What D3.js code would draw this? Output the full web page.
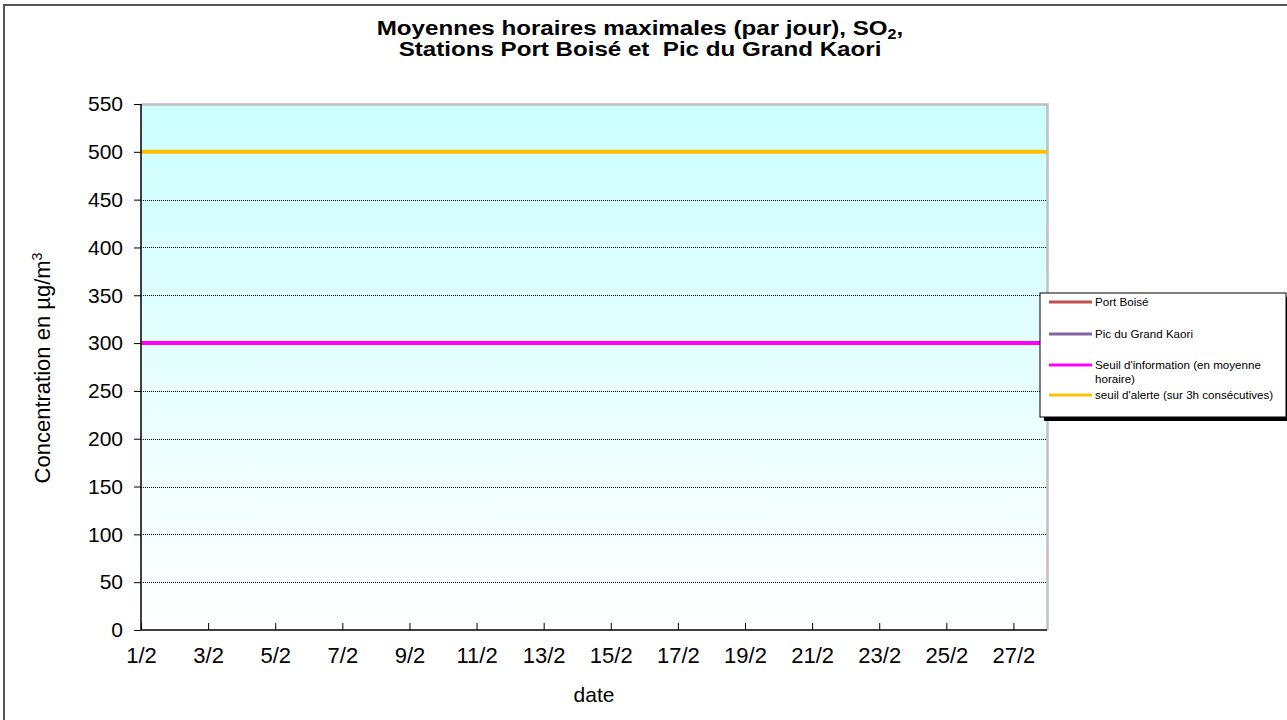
<!DOCTYPE html>
<html><head><meta charset="utf-8">
<script src="https://cdn.jsdelivr.net/npm/d3@7"></script>
<style>body{margin:0;background:#fff}svg{display:block}text{font-family:"Liberation Sans",Arial,sans-serif}</style>
</head><body>
<svg id="c" width="1287" height="720"></svg>
<script>
const dates = ["1/2","2/2","3/2","4/2","5/2","6/2","7/2","8/2","9/2","10/2","11/2","12/2","13/2","14/2","15/2","16/2","17/2","18/2","19/2","20/2","21/2","22/2","23/2","24/2","25/2","26/2","27/2","28/2"];
const portBoise = [null,null,null,null,null,null,null,null,null,null,null,null,null,null,null,null,null,null,null,null,null,null,null,null,null,null,null,null];
const picGrandKaori = [null,null,null,null,null,null,null,null,null,null,null,null,null,null,null,null,null,null,null,null,null,null,null,null,null,null,null,null];
const seuilInformation = [300,300,300,300,300,300,300,300,300,300,300,300,300,300,300,300,300,300,300,300,300,300,300,300,300,300,300,300];
const seuilAlerte = [500,500,500,500,500,500,500,500,500,500,500,500,500,500,500,500,500,500,500,500,500,500,500,500,500,500,500,500];
const yTicks = [0,50,100,150,200,250,300,350,400,450,500,550];
const xTickLabels = ["1/2","3/2","5/2","7/2","9/2","11/2","13/2","15/2","17/2","19/2","21/2","23/2","25/2","27/2"];

const series = [
  {name:"Port Boisé", values:portBoise, color:"#C0504D", lines:["Port Boisé"]},
  {name:"Pic du Grand Kaori", values:picGrandKaori, color:"#8064A2", lines:["Pic du Grand Kaori"]},
  {name:"Seuil d'information (en moyenne horaire)", values:seuilInformation, color:"#FF00FF", lines:["Seuil d'information (en moyenne","horaire)"]},
  {name:"seuil d'alerte (sur 3h consécutives)", values:seuilAlerte, color:"#FFC000", lines:["seuil d'alerte (sur 3h consécutives)"]}
];

const svg = d3.select("#c");
const L=141, R=1047, T=104, B=630;
const x = d3.scalePoint().domain(dates).range([L,R]);
const y = d3.scaleLinear().domain([0,550]).range([B,T]);

// outer border
svg.append("rect").attr("x",4).attr("y",5).attr("width",1290).attr("height",720).attr("fill","none").attr("stroke","#555").attr("stroke-width",2);

// gradient
const defs = svg.append("defs");
const g = defs.append("linearGradient").attr("id","bg").attr("x1",0).attr("y1",0).attr("x2",0).attr("y2",1);
g.append("stop").attr("offset","0%").attr("stop-color","#CCFFFF");
g.append("stop").attr("offset","100%").attr("stop-color","#FFFFFF");
svg.append("rect").attr("x",L).attr("y",T).attr("width",R-L).attr("height",B-T).attr("fill","url(#bg)");

// gridlines
svg.append("g").selectAll("line").data(yTicks.filter(v=>v>0&&v<550)).join("line")
  .attr("x1",L).attr("x2",R).attr("y1",d=>Math.round(y(d))+0.5).attr("y2",d=>Math.round(y(d))+0.5)
  .attr("stroke","#000").attr("stroke-width",1).attr("stroke-dasharray","1,1");

// plot border (top & right)
svg.append("path").attr("d",`M${L},${T+0.5}H${R+0.5}V${B}`).attr("fill","none").attr("stroke","#C0C0C0").attr("stroke-width",2.5);

// series lines
const line = d3.line().defined(d=>d.v!=null).x(d=>x(d.k)).y(d=>y(d.v));
series.forEach(s=>{
  const pts = dates.map((k,i)=>({k, v:s.values[i]}));
  svg.append("path").datum(pts).attr("d",line).attr("fill","none").attr("stroke",s.color).attr("stroke-width",4);
});

// y axis
const ya = svg.append("g").attr("transform",`translate(${L},0)`)
  .call(d3.axisLeft(y).tickValues(yTicks).tickSize(7).tickPadding(11).tickFormat(d3.format("d")));
ya.select(".domain").attr("stroke","#000").attr("stroke-width",1.5).attr("d",`M0,${T}V${B}`);
ya.selectAll(".tick line").attr("stroke","#000");
ya.selectAll("text").attr("font-size",21).attr("fill","#000").attr("font-family","Liberation Sans, Arial, sans-serif");

// x axis
const xa = svg.append("g").attr("transform",`translate(0,${B})`)
  .call(d3.axisBottom(x).tickValues(xTickLabels).tickSize(-7).tickPadding(17));
xa.select(".domain").attr("stroke","#000").attr("stroke-width",1.5).attr("d",`M${L},0H${R}`);
xa.selectAll(".tick line").attr("stroke","#000");
xa.selectAll("text").attr("font-size",22).attr("fill","#000").attr("font-family","Liberation Sans, Arial, sans-serif");

// titles (slightly wide lettering, as in the reference)
const tg = svg.append("g").attr("transform","translate(640,0) scale(1.15,1)");
const title = tg.append("text").attr("text-anchor","middle").attr("font-weight","bold").attr("font-size",21).style("white-space","pre");
const t1 = title.append("tspan").attr("x",0).attr("y",35);
t1.append("tspan").text("Moyennes horaires maximales (par jour), SO");
t1.append("tspan").attr("font-size",14).attr("dy",4).text("2");
t1.append("tspan").attr("dy",-4).text(",");
title.append("tspan").attr("x",0).attr("y",56).text("Stations Port Boisé et  Pic du Grand Kaori");

svg.append("text").attr("x",594).attr("y",702).attr("text-anchor","middle").attr("font-size",21).text("date");
const yt = svg.append("text").attr("transform","translate(50,368) rotate(-90)").attr("text-anchor","middle").attr("font-size",22);
yt.append("tspan").text("Concentration en µg/m");
yt.append("tspan").attr("font-size",14).attr("dy",-8).text("3");

// legend
const lg = svg.append("g");
lg.append("rect").attr("x",1044).attr("y",297).attr("width",246).attr("height",124).attr("fill","#000");
lg.append("rect").attr("x",1040).attr("y",293).attr("width",246).attr("height",124).attr("fill","#fff").attr("stroke","#000").attr("stroke-width",1);
const ly = [302,334,365,395];
series.forEach((s,i)=>{
  lg.append("line").attr("x1",1049).attr("x2",1092).attr("y1",ly[i]).attr("y2",ly[i]).attr("stroke",s.color).attr("stroke-width",3);
  s.lines.forEach((t,j)=>{
    lg.append("text").attr("x",1095).attr("y",ly[i]+4+j*13.5).attr("font-size",11.6).text(t);
  });
});
</script>
</body></html>
